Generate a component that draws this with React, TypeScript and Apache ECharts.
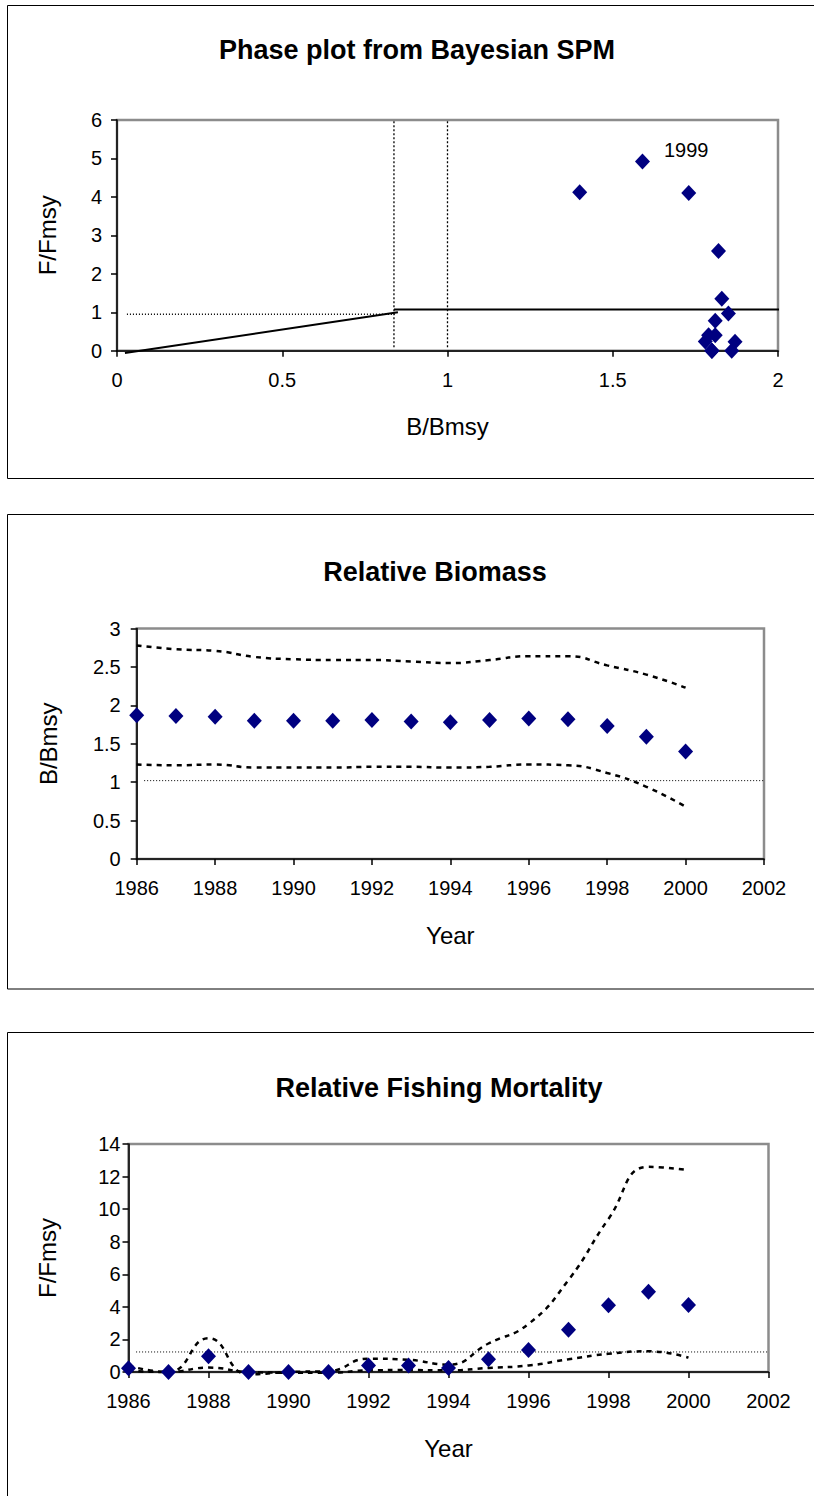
import React, { useEffect, useRef } from "react";
import * as echarts from "echarts";

const FONT = '"Liberation Sans", Arial, sans-serif';

// ---- Data ----
const years = [1986, 1987, 1988, 1989, 1990, 1991, 1992, 1993, 1994, 1995, 1996, 1997, 1998, 1999, 2000];
const relB = [1.87, 1.86, 1.85, 1.8, 1.8, 1.8, 1.81, 1.79, 1.78, 1.81, 1.83, 1.82, 1.73, 1.59, 1.4];
const relBUpper = [2.78, 2.73, 2.71, 2.63, 2.6, 2.59, 2.59, 2.57, 2.55, 2.59, 2.64, 2.64, 2.52, 2.4, 2.23];
const relBLower = [1.23, 1.22, 1.23, 1.19, 1.19, 1.19, 1.2, 1.2, 1.19, 1.2, 1.23, 1.22, 1.12, 0.94, 0.68];
const relF = [0.23, 0.0, 0.97, 0.0, 0.0, 0.0, 0.4, 0.4, 0.24, 0.78, 1.35, 2.59, 4.1, 4.92, 4.12];
const relFUpper = [0.38, 0.0, 2.08, -0.15, 0.0, 0.05, 0.82, 0.75, 0.45, 1.75, 2.95, 5.65, 9.4, 12.6, 12.4];
const relFLower = [0.08, 0.0, 0.27, 0.0, -0.04, -0.04, 0.1, 0.12, 0.1, 0.25, 0.4, 0.78, 1.12, 1.27, 0.88];
const labelledYears = [1999];

// Phase plot reference lines (B/Bmsy, F/Fmsy)
const hcrRamp = [[0.024, -0.06], [0.85, 1.0]];
const hcrFlat = [[0.838, 1.07], [2.015, 1.07]];
const fRefDotted = [[0.03, 0.95], [0.84, 0.95]];
const bLimitLine = [[0.838, 0.09], [0.838, 6]];
const bMsyLine = [[1.0, 0.09], [1.0, 6]];
// Reference lines in the time series panels
const bRefLine = [[1986.19, 1.02], [2002, 1.02]];
const fRefLine = [[1986.19, 1.23], [2002, 1.23]];

const titles = ["Phase plot from Bayesian SPM", "Relative Biomass", "Relative Fishing Mortality"];

const NAVY = "#000080";

function axisBase(margin: number) {
  return {
    axisLine: { show: true, onZero: false, lineStyle: { color: "#000", width: 1.5 } },
    axisTick: { show: true, inside: false, length: 6, lineStyle: { color: "#000", width: 1.5 } },
    splitLine: { show: false },
    axisLabel: { color: "#000", fontSize: 20, fontFamily: FONT, margin },
    nameTextStyle: { color: "#000", fontSize: 24, fontFamily: FONT },
  };
}

export default function App() {
  const ref = useRef<HTMLDivElement>(null);
  useEffect(() => {
    if (!ref.current) return;
    const chart = echarts.init(ref.current, null, { renderer: "svg" });
    const yearFmt = (v: number) => String(v);
    const dashed = { color: "#000", width: 2.5, type: [5, 5] as any };
    const dotted = { color: "#000", width: 1, type: [1, 2] as any };
    const diamondStyle = { color: NAVY, opacity: 1 };

    const phaseData = years.map((y, i) => {
      const item: any = { value: [relB[i], relF[i]], name: String(y) };
      if (labelledYears.includes(y)) {
        item.label = {
          show: true,
          formatter: "{b}",
          position: "right",
          distance: 14,
          offset: [0, -12],
          color: "#000",
          opacity: 1,
          fontSize: 20,
          fontFamily: FONT,
        };
      }
      return item;
    });

    const option: any = {
      animation: false,
      backgroundColor: "#fff",
      graphic: [
        { type: "rect", shape: { x: 7.5, y: 5.5, width: 830, height: 473 }, style: { fill: "none", stroke: "#000", lineWidth: 1 }, z: -1 },
        { type: "rect", shape: { x: 7.5, y: 514.5, width: 830, height: 474.5 }, style: { fill: "none", stroke: "#000", lineWidth: 1 }, z: -1 },
        { type: "rect", shape: { x: 7.5, y: 1032.5, width: 830, height: 500 }, style: { fill: "none", stroke: "#000", lineWidth: 1 }, z: -1 },
        { type: "text", x: 417, y: 50, style: { text: titles[0], fill: "#000", fontSize: 27, fontWeight: "bold", fontFamily: FONT, align: "center", verticalAlign: "middle" } },
        { type: "text", x: 435, y: 572, style: { text: titles[1], fill: "#000", fontSize: 27, fontWeight: "bold", fontFamily: FONT, align: "center", verticalAlign: "middle" } },
        { type: "text", x: 439, y: 1088, style: { text: titles[2], fill: "#000", fontSize: 27, fontWeight: "bold", fontFamily: FONT, align: "center", verticalAlign: "middle" } },
      ],
      grid: [
        { left: 117, top: 120, width: 661, height: 230.7, show: true, borderColor: "#8c8c8c", borderWidth: 2.5, backgroundColor: "#fff" },
        { left: 136.7, top: 628.5, width: 627.3, height: 230.5, show: true, borderColor: "#8c8c8c", borderWidth: 2.5, backgroundColor: "#fff" },
        { left: 128.5, top: 1144, width: 640, height: 228, show: true, borderColor: "#8c8c8c", borderWidth: 2.5, backgroundColor: "#fff" },
      ],
      xAxis: [
        { ...axisBase(19), gridIndex: 0, type: "value", min: 0, max: 2, interval: 0.5, name: "B/Bmsy", nameLocation: "middle", nameGap: 64 },
        { ...axisBase(19), gridIndex: 1, type: "value", min: 1986, max: 2002, interval: 2, name: "Year", nameLocation: "middle", nameGap: 64, axisLabel: { ...axisBase(19).axisLabel, formatter: yearFmt } },
        { ...axisBase(19), gridIndex: 2, type: "value", min: 1986, max: 2002, interval: 2, name: "Year", nameLocation: "middle", nameGap: 64, axisLabel: { ...axisBase(19).axisLabel, formatter: yearFmt } },
      ],
      yAxis: [
        { ...axisBase(15), gridIndex: 0, type: "value", min: 0, max: 6, interval: 1, name: "F/Fmsy", nameLocation: "middle", nameGap: 58, nameRotate: 90 },
        { ...axisBase(16), gridIndex: 1, type: "value", min: 0, max: 3, interval: 0.5, name: "B/Bmsy", nameLocation: "middle", nameGap: 76, nameRotate: 90 },
        { ...axisBase(8), gridIndex: 2, type: "value", min: 0, max: 14, interval: 2, name: "F/Fmsy", nameLocation: "middle", nameGap: 69, nameRotate: 90 },
      ],
      series: [
        // Phase plot
        { type: "line", xAxisIndex: 0, yAxisIndex: 0, data: fRefDotted, symbol: "none", clip: false, lineStyle: { color: "#000", width: 1.5, type: [1, 2] } },
        { type: "line", xAxisIndex: 0, yAxisIndex: 0, data: bLimitLine, symbol: "none", clip: false, lineStyle: { color: "#000", width: 1.3, type: [2, 2] } },
        { type: "line", xAxisIndex: 0, yAxisIndex: 0, data: bMsyLine, symbol: "none", clip: false, lineStyle: { color: "#000", width: 1.3, type: [2, 2] } },
        { type: "line", xAxisIndex: 0, yAxisIndex: 0, data: hcrRamp, symbol: "none", clip: false, lineStyle: { color: "#000", width: 2 } },
        { type: "line", xAxisIndex: 0, yAxisIndex: 0, data: hcrFlat, symbol: "none", clip: false, lineStyle: { color: "#000", width: 2 } },
        { type: "scatter", xAxisIndex: 0, yAxisIndex: 0, data: phaseData, symbol: "diamond", symbolSize: [15, 16], itemStyle: diamondStyle, clip: false, z: 5 },
        // Relative biomass
        { type: "line", xAxisIndex: 1, yAxisIndex: 1, data: bRefLine, symbol: "none", clip: false, lineStyle: dotted },
        { type: "line", xAxisIndex: 1, yAxisIndex: 1, data: years.map((y, i) => [y, relBUpper[i]]), symbol: "none", smooth: true, clip: false, lineStyle: dashed },
        { type: "line", xAxisIndex: 1, yAxisIndex: 1, data: years.map((y, i) => [y, relBLower[i]]), symbol: "none", smooth: true, clip: false, lineStyle: dashed },
        { type: "scatter", xAxisIndex: 1, yAxisIndex: 1, data: years.map((y, i) => [y, relB[i]]), symbol: "diamond", symbolSize: [15, 16], itemStyle: diamondStyle, clip: false, z: 5 },
        // Relative fishing mortality
        { type: "line", xAxisIndex: 2, yAxisIndex: 2, data: fRefLine, symbol: "none", clip: false, lineStyle: dotted },
        { type: "line", xAxisIndex: 2, yAxisIndex: 2, data: years.map((y, i) => [y, relFUpper[i]]), symbol: "none", smooth: true, clip: false, lineStyle: dashed },
        { type: "line", xAxisIndex: 2, yAxisIndex: 2, data: years.map((y, i) => [y, relFLower[i]]), symbol: "none", smooth: true, clip: false, lineStyle: dashed },
        { type: "scatter", xAxisIndex: 2, yAxisIndex: 2, data: years.map((y, i) => [y, relF[i]]), symbol: "diamond", symbolSize: [15, 16], itemStyle: diamondStyle, clip: false, z: 5 },
      ],
    };
    chart.setOption(option);
    return () => chart.dispose();
  }, []);
  return <div ref={ref} style={{ position: "absolute", left: 0, top: 0, width: 814, height: 1496 }} />;
}
